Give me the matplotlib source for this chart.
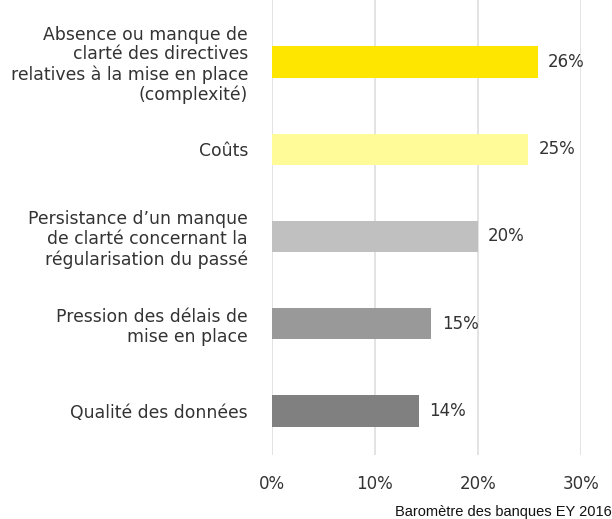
import matplotlib
matplotlib.use("Agg")
import matplotlib.pyplot as plt

categories = [
    "Absence ou manque de\nclarté des directives\nrelatives à la mise en place\n(complexité)",
    "Coûts",
    "Persistance d’un manque\nde clarté concernant la\nrégularisation du passé",
    "Pression des délais de\nmise en place",
    "Qualité des données",
]
values = [25.8, 24.9, 20.0, 15.5, 14.3]
labels = ["26%", "25%", "20%", "15%", "14%"]
colors = ["#FFE600", "#FFFB99", "#C0C0C0", "#999999", "#808080"]
xticks = [0, 10, 20, 30]
xticklabels = ["0%", "10%", "20%", "30%"]

plt.rcParams['font.family'] = ['DejaVu Sans']
fig = plt.figure(figsize=(6.12, 5.19), dpi=100)
ax = fig.add_axes([0.444, 0.123, 0.505, 0.877])

ypos = list(range(len(categories)))
ax.barh(ypos, values, height=0.36, color=colors, zorder=3)
for y, v, l in zip(ypos, values, labels):
    ax.text(v + 1.0, y, l, va='center', ha='left', fontsize=12, color='#333333')

ax.set_xlim(0, 30)
ax.set_ylim(4.506, -0.71)
ax.set_xticks(xticks)
ax.set_xticklabels(xticklabels, fontsize=12, color='#333333')
ax.set_yticks(ypos)
ax.set_yticklabels(categories, fontsize=12.4, color='#333333', linespacing=1.13)
ax.tick_params(axis='both', length=0)
ax.tick_params(axis='y', pad=17)
ax.tick_params(axis='x', pad=14)
ax.grid(axis='x', color='#E0E0E0', linewidth=1.3, zorder=0)
for s in ax.spines.values():
    s.set_visible(False)

fig.text(0.999, 0.0, "Baromètre des banques EY 2016", ha='right', va='bottom',
         fontsize=10.5, family='Liberation Sans', color='#111111')

fig.savefig("out.png", dpi=100)
